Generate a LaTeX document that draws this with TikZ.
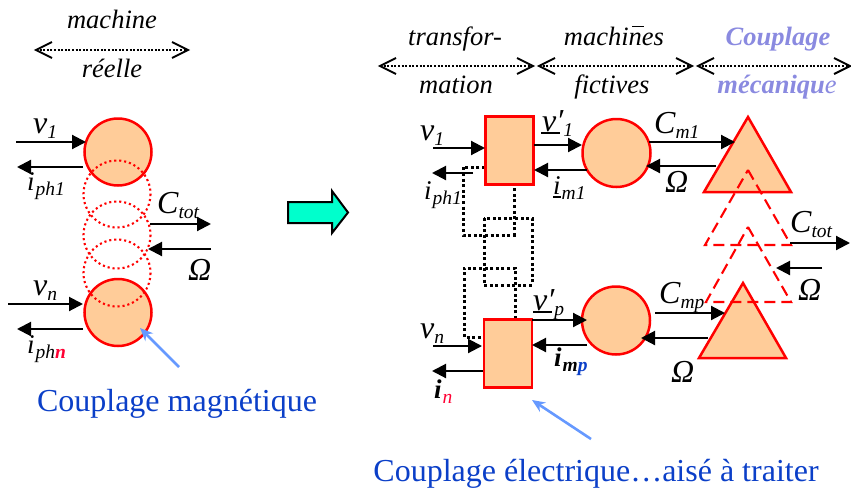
\documentclass[tikz,border=0pt]{standalone}
\usepackage{fontspec}
\setmainfont{Liberation Serif}
\usetikzlibrary{arrows.meta}
\definecolor{peach}{HTML}{FFCC99}
\definecolor{txtblue}{HTML}{0B3FC8}
\definecolor{arrblue}{HTML}{6699FF}
\definecolor{violet}{HTML}{8A8AE0}
\definecolor{subred}{HTML}{FF0033}
\definecolor{jet}{HTML}{00FFCC}
\newcommand{\sbs}[1]{\lower5pt\hbox{\fontsize{19.5}{21}\selectfont #1}}
\newcommand{\smalli}{{\fontsize{27}{28}\selectfont i\kern1pt}}
\newcommand{\sig}[3]{\path (#2) coordinate (#1a) (#3) coordinate (#1b); \draw[sigarrow] (#1a) -- (#1b);}
\newcommand{\spanarr}[3]{%
  \path (#1,#3) coordinate (sa) (#2,#3) coordinate (sb);
  \draw[spandots] (sa) -- (sb);
  \draw[spanbarb] ([shift={(16,-8)}]sa) -- (sa) -- ([shift={(16,8)}]sa);
  \draw[spanbarb] ([shift={(-16,-8)}]sb) -- (sb) -- ([shift={(-16,8)}]sb);}
\tikzset{
  x=1pt,y=-1pt,
  sigarrow/.style={line width=2.1pt,-{Triangle[length=14pt,width=14pt]}},
  spandots/.style={line width=2pt,dash pattern=on 2pt off 1.6pt},
  spanbarb/.style={line width=2pt,miter limit=10},
  blobc/.style={circle,draw=red,fill=peach,line width=2.5pt,minimum size=67pt,inner sep=0pt},
  blobr/.style={rectangle,draw=red,fill=peach,line width=2.5pt,minimum width=48pt,minimum height=68pt,inner sep=0pt},
  blobt/.style={draw=red,fill=peach,line width=2.5pt,line join=miter},
  ghostc/.style={draw=red,line width=2.1pt,dash pattern=on 2.1pt off 2.9pt},
  ghostt/.style={draw=red,line width=2.1pt,dash pattern=on 11pt off 6pt},
  wire/.style={line width=3pt,dash pattern=on 3pt off 2.6pt},
  hint/.style={line width=2.6pt,draw=arrblue,-{Stealth[length=13pt,width=11pt]}},
  sym/.style={anchor=base west,inner sep=0pt,font=\fontsize{32}{34}\selectfont\itshape},
  head/.style={anchor=base,inner sep=0pt,font=\fontsize{26.5}{30}\selectfont\itshape},
  caption/.style={anchor=base,inner sep=0pt,text=txtblue,font=\fontsize{32}{36}\selectfont},
}
\begin{document}
\begin{tikzpicture}
\useasboundingbox (0,0) rectangle (851,490);

% headers
\node[head] (h1) at (112,28) {machine};
\node[head] (h2) at (112,77) {réelle};
\spanarr{36}{188}{50}
\node[head] (h3) at (455,45) {transfor-};
\node[head] (h4) at (456,93) {mation};
\spanarr{380}{533}{66}
\node[head] (h5) at (614,45) {machines};
\draw[line width=1pt] (632,26) -- (644,26);
\node[head] (h6) at (612,93) {fictives};
\spanarr{539}{692}{66}
\node[head,text=violet,font=\fontsize{26.5}{30}\selectfont\itshape\bfseries] (h7) at (778,45) {Couplage};
\node[head,text=violet,font=\fontsize{26.5}{30}\selectfont\itshape\bfseries] (h8) at (777,93) {mécaniqu{\mdseries e}};
\spanarr{698}{850}{66}

% real machine
\node[blobc] (c1) at (118,152) {};
\node[blobc] (cn) at (118,312.5) {};
\draw[ghostc] (117,194) circle (33.5);
\draw[ghostc] (117,235) circle (33.5);
\draw[ghostc] (117,273) circle (33.5);

\sig{a1}{16,142}{86,142}
\sig{a2}{83,167}{17,167}
\sig{a3}{150,224}{211,224}
\sig{a4}{211,249}{148,249}
\sig{a5}{8,304}{83,304}
\sig{a6}{83,329}{17,329}

\node[sym] (l1) at (33,133) {v\sbs{1}};
\node[sym] (l2) at (27,190) {\smalli\sbs{ph1}};
\node[sym] (l3) at (157,213) {C\sbs{tot}};
\node[sym] (l4) at (188,280) {Ω};
\node[sym] (l5) at (33,295) {v\sbs{n}};
\node[sym] (l6) at (27,353) {\smalli\sbs{ph\textcolor{subred}{\bfseries n}}};

\path (179,367) coordinate (b1) (140,328) coordinate (b2);
\draw[hint] (b1) -- (b2);
\node[caption] (cap1) at (177,411) {Couplage magnétique};

% big arrow
\draw[line width=2pt,fill=jet,line join=miter]
  (288,202) -- (332,202) -- (332,191) -- (348,212.5) -- (332,233) -- (332,223) -- (288,223) -- cycle;

% wiring between the transformation blocks
\draw[wire] (485,167) -- (463,167) -- (463,235) -- (514,235) -- (514,185);
\draw[wire] (484,218) rectangle (532,285);
\draw[wire] (515,319) -- (515,268) -- (464,268) -- (464,337) -- (484,337);

% transformation blocks
\node[blobr] (r1) at (509.5,150.5) {};
\node[blobr] (rn) at (508,353.5) {};
% fictive machines
\node[blobc,minimum size=68pt] (m1) at (616.5,153) {};
\node[blobc,minimum size=68pt] (mp) at (616,320.5) {};
% mechanical coupling
\draw[blobt] (748,117) -- (791,192) -- (704,192) -- cycle;
\draw[blobt] (743,283) -- (786,358) -- (699,358) -- cycle;
\draw[ghostt] (748,170) -- (791,245) -- (705,245) -- cycle;
\draw[ghostt] (748,227) -- (791,302) -- (706,302) -- cycle;

\sig{d1}{433,148}{485,148}
\sig{d2}{473,173}{432,173}
\sig{d3}{534,145}{582,145}
\sig{d4}{587,170}{534,170}
\sig{d5}{649,142}{735,142}
\sig{d6}{716,166}{646,166}
\sig{d7}{790,243}{850,243}
\sig{d8}{822,268}{776,268}
\sig{d9}{655,313}{725,313}
\sig{d10}{708,338}{641,338}
\sig{d11}{532,320}{587,320}
\sig{d12}{587,345}{532,345}
\sig{d13}{433,346}{482,346}
\sig{d14}{483,371}{432,371}

\node[sym] (t1) at (420,140) {v\sbs{1}};
\node[sym] (t2) at (424,199) {\smalli\sbs{ph1}};
\node[sym] (t3) at (542,131) {v′\sbs{1}};
\draw[line width=1.7pt] (541,133) -- (560,133);
\node[sym] (t4) at (553,194) {\smalli\sbs{m1}};
\draw[line width=1.7pt] (553,197) -- (561,197);
\node[sym] (t5) at (654,133) {C\sbs{m1}};
\node[sym] (t6) at (665,192) {Ω};
\node[sym] (t7) at (790,232) {C\sbs{tot}};
\node[sym] (t8) at (798,300) {Ω};
\node[sym] (t9) at (659,303) {C\sbs{mp}};
\node[sym] (t10) at (671,382) {Ω};
\node[sym] (t11) at (533,310) {v′\sbs{p}};
\draw[line width=1.7pt] (533,312) -- (552,312);
\node[sym] (t12) at (554,366) {{\bfseries\smalli}\sbs{\bfseries m\textcolor{txtblue}{p}}};
\node[sym] (t13) at (420,338) {v\sbs{n}};
\node[sym] (t14) at (434,398) {{\bfseries\smalli}\sbs{\textcolor{subred}{n}}};

\path (591,439) coordinate (b3) (532,400) coordinate (b4);
\draw[hint] (b3) -- (b4);
\node[caption] (cap2) at (596,481) {Couplage électrique…aisé à traiter};
\end{tikzpicture}
\end{document}
